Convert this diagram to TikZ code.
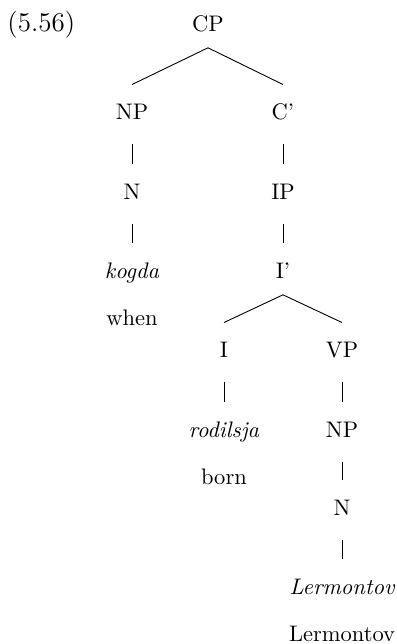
\documentclass[tikz,border=0pt]{standalone}
\usepackage{tikz}
\usetikzlibrary{positioning, calc}
\tikzset{
  cat/.style={inner sep=0pt, text height=7pt, text depth=2pt, font=\normalsize},
  word/.style={cat, font=\itshape},
  branch/.style={line width=0.4pt, color=black},
  unary/.style={branch, shorten <=8.5pt, shorten >=8.5pt}
}

\begin{document}
\begin{tikzpicture}
  \useasboundingbox (0,0) rectangle (6.202,-10.061);
  % Example number
  \node[anchor=base west, font=\large, inner sep=0pt] (exno) at (0.11,-0.5) {(5.56)};
  % CP and its daughters
  \node[cat] (cp) at (3.249,-0.406) {CP};
  \node[cat] (np) at (2.062,-1.781) {NP};
  \node[cat] (cbar) at (4.421,-1.781) {C'};
  \draw[branch] ([yshift=-5pt]cp.south) -- ([yshift=8.4pt]np.north);
  \draw[branch] ([yshift=-5pt]cp.south) -- ([yshift=8.4pt]cbar.north);
  % Left branch: kogda
  \node[cat] (n1) at (2.062,-3.031) {N};
  \node[word] (kogda) at (2.062,-4.265) {kogda};
  \node[cat, below=11.4pt of kogda] (when) {when};
  \draw[unary] (np.south) -- (n1.north);
  \draw[unary] (n1.south) -- (kogda.north);
  % Right branch: IP
  \node[cat] (ip) at (4.421,-3.031) {IP};
  \node[cat] (ibar) at (4.421,-4.265) {I'};
  \draw[unary] (cbar.south) -- (ip.north);
  \draw[unary] (ip.south) -- (ibar.north);
  \node[cat] (infl) at (3.499,-5.499) {I};
  \node[cat] (vp) at (5.343,-5.499) {VP};
  \draw[branch] ([yshift=-5pt]ibar.south) -- ([yshift=8.4pt]infl.north);
  \draw[branch] ([yshift=-5pt]ibar.south) -- ([yshift=8.4pt]vp.north);
  % I: rodilsja
  \node[word] (rodilsja) at (3.499,-6.749) {rodilsja};
  \node[cat, below=11.4pt of rodilsja] (born) {born};
  \draw[unary] (infl.south) -- (rodilsja.north);
  % VP: Lermontov
  \node[cat] (np2) at (5.343,-6.749) {NP};
  \node[cat] (n2) at (5.343,-7.967) {N};
  \node[word] (lerm) at (5.343,-9.201) {Lermontov};
  \node[cat, below=11.4pt of lerm] (lermgl) {Lermontov};
  \draw[unary] (vp.south) -- (np2.north);
  \draw[unary] (np2.south) -- (n2.north);
  \draw[unary] (n2.south) -- (lerm.north);
\end{tikzpicture}
\end{document}
